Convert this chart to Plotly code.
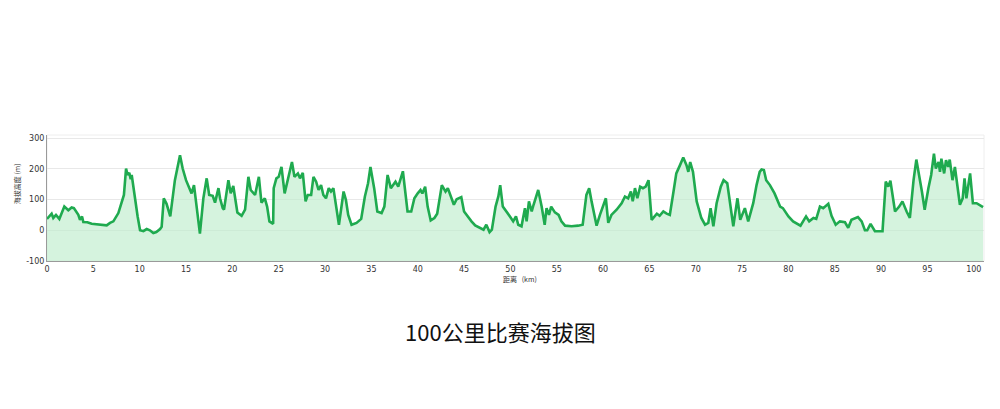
import plotly.graph_objects as go

distance_km = [0.0, 0.5, 0.68, 0.97, 1.33, 1.87, 2.3, 2.66, 2.9, 3.38, 3.56, 3.78, 3.92, 4.35, 4.82,
               5.72, 6.44, 6.8, 7.16, 7.7, 8.06, 8.3, 8.53, 8.7, 8.88, 9.03, 9.14, 9.5, 9.78, 10.04,
               10.4, 10.76, 11.1, 11.47, 11.8, 12.2, 12.37, 12.6, 12.9, 13.3, 13.8, 14.35, 14.64, 15.0,
               15.6, 15.86, 16.08, 16.5, 16.87, 17.23, 17.5, 17.88, 18.13, 18.3, 18.5, 18.67, 18.96,
               19.1, 19.57, 19.82, 20.1, 20.54, 21.0, 21.37, 21.73, 21.98, 22.45, 22.86, 23.14, 23.5,
               23.75, 24.0, 24.4, 24.46, 24.75, 25.0, 25.3, 25.64, 26.0, 26.43, 26.7, 27.07, 27.3,
               27.6, 27.9, 28.14, 28.5, 28.75, 29.04, 29.3, 29.57, 29.82, 30.1, 30.4, 30.64, 30.9,
               31.5, 32.0, 32.25, 32.5, 32.86, 33.4, 33.9, 34.3, 34.64, 34.9, 35.3, 35.64, 36.1, 36.4,
               36.75, 37.1, 37.6, 37.9, 38.4, 38.9, 39.3, 39.64, 40.0, 40.3, 40.5, 40.8, 41.07, 41.4,
               41.8, 42.1, 42.6, 43.0, 43.25, 43.5, 43.9, 44.2, 44.7, 45.0, 45.5, 45.8, 46.2, 46.8,
               47.1, 47.4, 47.75, 48.0, 48.4, 48.7, 48.9, 49.18, 49.6, 49.95, 50.3, 50.6, 50.85, 51.2,
               51.57, 51.75, 52.0, 52.3, 52.5, 53.0, 53.37, 53.7, 53.9, 54.16, 54.4, 54.8, 55.2, 55.5,
               55.9, 56.6, 57.3, 57.8, 58.2, 58.5, 58.76, 59.3, 59.66, 60.1, 60.3, 60.56, 60.9, 61.46,
               62.0, 62.36, 62.7, 63.0, 63.2, 63.44, 63.7, 64.0, 64.3, 64.6, 64.9, 65.24, 65.8, 66.1,
               66.5, 66.86, 67.2, 67.6, 67.9, 68.3, 68.65, 69.0, 69.2, 69.4, 69.7, 70.1, 70.6, 71.0,
               71.35, 71.6, 71.9, 72.25, 72.7, 73.0, 73.4, 74.05, 74.5, 74.8, 75.3, 75.66, 76.2, 76.56,
               76.9, 77.1, 77.35, 77.6, 78.0, 78.5, 79.1, 79.4, 80.0, 80.5, 81.06, 81.3, 81.9, 82.24,
               82.7, 83.0, 83.4, 83.75, 84.3, 84.65, 85.1, 85.55, 86.1, 86.45, 86.8, 87.5, 87.9, 88.25,
               88.5, 88.86, 89.33, 90.15, 90.5, 90.77, 91.0, 91.5, 91.95, 92.3, 92.75, 93.1, 93.5,
               93.8, 94.4, 94.7, 95.1, 95.4, 95.7, 95.9, 96.2, 96.35, 96.5, 96.8, 97.0, 97.24, 97.4,
               97.7, 97.96, 98.1, 98.5, 98.8, 99.0, 99.2, 99.6, 99.9, 100.3, 101.0]

elevation_m = [37, 54, 40, 50, 37, 77, 65, 74, 72, 50, 34, 45, 27, 26, 21,
               17, 16, 24, 29, 56, 94, 115, 201, 180, 187, 166, 180, 99, 45, 0,
               -3, 4, 0, -9, -6, 4, 11, 104, 86, 45, 163, 244, 201, 163,
               120, 147, 94, -11, 104, 169, 115, 112, 90, 110, 137, 104, 72,
               67, 163, 120, 144, 58, 47, 67, 174, 131, 115, 174, 90, 104,
               77, 29, 21, 137, 169, 174, 206, 120, 163, 222, 174, 185, 169,
               187, 94, 115, 115, 174, 158, 131, 147, 115, 104, 137, 126, 137,
               18, 126, 99, 50, 18, 24, 37, 110, 153, 206, 137, 61, 56, 77,
               180, 137, 158, 142, 192, 61, 61, 104, 120, 131, 120, 142, 77, 32,
               40, 54, 147, 126, 137, 115, 83, 101, 108, 61, 40, 29, 16, 8,
               2, 18, -6, 2, 77, 110, 147, 77, 61, 45, 29, 45, 18, 13,
               72, 29, 94, 61, 83, 131, 77, 18, 72, 50, 77, 58, 50, 29,
               15, 13, 15, 18, 115, 137, 94, 15, 50, 83, 104, 24, 50, 67,
               88, 110, 104, 126, 94, 137, 104, 142, 137, 142, 163, 34, 54, 47,
               61, 54, 50, 126, 185, 212, 237, 212, 190, 222, 190, 94, 40, 18,
               24, 72, 13, 88, 142, 163, 153, 13, 104, 34, 72, 29, 88, 147,
               190, 198, 196, 163, 147, 120, 77, 72, 45, 29, 21, 15, 45, 29,
               40, 37, 77, 72, 86, 47, 18, 29, 26, 8, 34, 43, 29, 0,
               0, 21, -3, -3, 158, 142, 161, 61, 77, 94, 61, 40, 163,
               230, 126, 67, 137, 180, 249, 201, 222, 190, 233, 185, 228, 206, 230,
               163, 206, 174, 83, 104, 169, 104, 185, 88, 88, 75]

x_ticks = list(range(0, 101, 5))
y_ticks = [-100, 0, 100, 200, 300]

line_color = "#1faa4f"
fill_color = "rgba(190, 236, 205, 0.65)"
tick_font = dict(family="DejaVu Sans", size=8, color="#333333")

fig = go.Figure()
fig.add_trace(go.Scatter(
    x=[distance_km[0], distance_km[-1]], y=[-100, -100], mode="lines",
    line=dict(width=0), hoverinfo="skip", showlegend=False))
fig.add_trace(go.Scatter(
    x=distance_km, y=elevation_m, mode="lines",
    line=dict(color=line_color, width=2.6),
    fill="tonexty", fillcolor=fill_color, showlegend=False))

fig.update_layout(
    width=1000, height=409,
    margin=dict(l=39, r=24, t=127, b=156),
    paper_bgcolor="white", plot_bgcolor="white",
    xaxis=dict(range=[0, 101.1], tickvals=x_ticks, ticktext=[str(v) for v in x_ticks],
               showgrid=False, zeroline=False, showline=True, linecolor="#9a9a9a",
               linewidth=1, ticks="", tickfont=tick_font, mirror=False),
    yaxis=dict(range=[-100, 310], tickvals=y_ticks, ticktext=[str(v) for v in y_ticks],
               showgrid=True, gridcolor="#e8e8e8", gridwidth=1, zeroline=False,
               showline=True, linecolor="#9a9a9a", linewidth=1,
               ticks="", tickfont=tick_font),
    shapes=[dict(type="rect", xref="paper", yref="paper", x0=0, x1=1, y0=0, y1=1,
                 line=dict(color="#eeeeee", width=1), layer="below")],
    annotations=[
        dict(text="海拔高度 (m)", xref="paper", yref="paper", x=-0.032, y=0.61,
             textangle=-90, showarrow=False, xanchor="center", yanchor="middle",
             font=dict(family="Noto Sans CJK SC", size=7, color="#333333")),
        dict(text="距离\u00a0\u00a0\u00a0(km)", xref="paper", yref="paper", x=0.505, y=-0.145,
             showarrow=False, xanchor="center", yanchor="middle",
             font=dict(family="Noto Sans CJK SC", size=7, color="#333333")),
        dict(text="100公里比赛海拔图", xref="paper", yref="paper", x=0.484, y=-0.555,
             showarrow=False, xanchor="center", yanchor="middle",
             font=dict(family="Noto Sans CJK SC", size=22, color="#111111")),
    ],
)

fig.write_html("out.html")
